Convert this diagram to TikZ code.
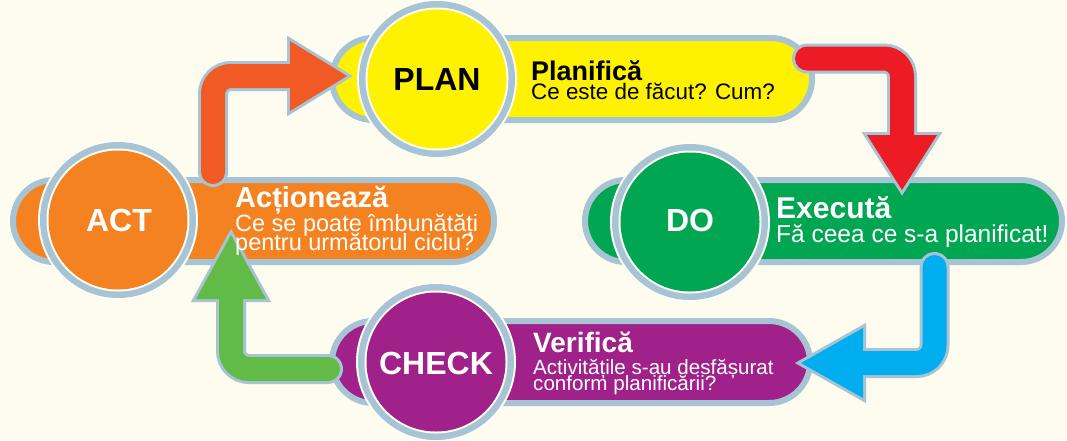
\documentclass[tikz,border=0pt]{standalone}
\usepackage{fontspec}
\setmainfont{Liberation Sans}
\definecolor{bg}{HTML}{FDFCEF}
\definecolor{bord}{HTML}{A6C4D4}
\definecolor{ringwhite}{HTML}{FFFDF5}
\definecolor{cyellow}{HTML}{FFF200}
\definecolor{cred}{HTML}{ED1C24}
\definecolor{cgreen}{HTML}{00A651}
\definecolor{cblue}{HTML}{00AEEF}
\definecolor{cpurple}{HTML}{A0218A}
\definecolor{clime}{HTML}{62BB46}
\definecolor{corange}{HTML}{F58220}
\definecolor{cbrick}{HTML}{F15A24}
\newcommand\stagedisk[2]{%
  \fill[ringwhite] #1 circle[radius=80pt];
  \fill[bord] #1 circle[radius=78pt];
  \fill[ringwhite] #1 circle[radius=71.5pt];
  \fill[#2] #1 circle[radius=69.5pt];}
\tikzset{
  stadium/.style={draw=bord, line width=6pt, rounded corners=41pt, fill=#1},
  shaftbg/.style={draw=bord, line width=30pt, rounded corners=18pt, line cap=round},
  shaftfg/.style={draw=#1, line width=24pt, rounded corners=18pt, line cap=round},
  headbg/.style={draw=bord, line width=6pt, line join=miter},
  headfg/.style={fill=#1},
  stagelbl/.style={inner sep=0pt, font=\bfseries\fontsize{32}{32}\selectfont},
  ttl/.style={anchor=base west, inner sep=0pt, font=\bfseries\fontsize{#1}{#1}\selectfont},
  sub/.style={anchor=base west, inner sep=0pt, font=\fontsize{#1}{#1}\selectfont},
}
\begin{document}
\begin{tikzpicture}[x=1pt,y=-1pt]
\useasboundingbox[fill=bg] (0,0) rectangle (1067,440);

% stadium bands
\draw[stadium=cyellow] (332,38) rectangle (812,120);
\draw[stadium=cgreen] (585,180) rectangle (1062,262);
\draw[stadium=corange] (13,180) rectangle (494,262);
\draw[stadium=cpurple] (332,321) rectangle (810,403);

% big discs
\stagedisk{(437,79)}{cyellow}
\stagedisk{(690,222)}{cgreen}
\stagedisk{(118,220)}{corange}
\stagedisk{(436,362)}{cpurple}

% arrow ACT -> PLAN (orange)
\coordinate (oS) at (213,172); \coordinate (oC) at (213,76); \coordinate (oE) at (292,76);
\coordinate (oA) at (290,41); \coordinate (oT) at (347,76); \coordinate (oB) at (290,111);
\draw[shaftbg] (oS) -- (oC) -- (oE);
\draw[headbg] (oA) -- (oT) -- (oB) -- cycle;
\fill[headfg=cbrick] (oA) -- (oT) -- (oB) -- cycle;
\draw[shaftfg=cbrick] (oS) -- (oC) -- (oE);

% arrow PLAN -> DO (red)
\coordinate (rS) at (807,58.5); \coordinate (rC) at (902,58.5); \coordinate (rE) at (902,137);
\coordinate (rA) at (867,135); \coordinate (rT) at (902,190); \coordinate (rB) at (937,135);
\draw[shaftbg] (rS) -- (rC) -- (rE);
\draw[headbg] (rA) -- (rT) -- (rB) -- cycle;
\fill[headfg=cred] (rA) -- (rT) -- (rB) -- cycle;
\draw[shaftfg=cred] (rS) -- (rC) -- (rE);

% arrow DO -> CHECK (blue)
\coordinate (bS) at (934.5,267); \coordinate (bC) at (934.5,363); \coordinate (bE) at (861,363);
\coordinate (bA) at (863,328); \coordinate (bT) at (801,363); \coordinate (bB) at (863,398);
\draw[shaftbg] (bS) -- (bC) -- (bE);
\draw[headbg] (bA) -- (bT) -- (bB) -- cycle;
\fill[headfg=cblue] (bA) -- (bT) -- (bB) -- cycle;
\draw[shaftfg=cblue] (bS) -- (bC) -- (bE);

% arrow CHECK -> ACT (green)
\coordinate (gS) at (328,369); \coordinate (gC) at (231,369); \coordinate (gE) at (231,297);
\coordinate (gA) at (196,299); \coordinate (gT) at (231,235); \coordinate (gB) at (266,299);
\draw[shaftbg] (gS) -- (gC) -- (gE);
\draw[headbg] (gA) -- (gT) -- (gB) -- cycle;
\fill[headfg=clime] (gA) -- (gT) -- (gB) -- cycle;
\draw[shaftfg=clime] (gS) -- (gC) -- (gE);

% stage labels
\node[stagelbl, text=black] (plan) at (437,79.5) {PLAN};
\node[stagelbl, text=white] (do) at (690,220.5) {DO};
\node[stagelbl, text=white] (act) at (119,220.5) {ACT};
\node[stagelbl, text=white] (check) at (436,363) {CHECK};

% descriptions
\node[ttl=27, text=black] (planT) at (531,80) {Planifică};
\node[sub=22.4, text=black] (planS) at (531,99) {Ce este de făcut? Cum?};

\node[ttl=30, text=white] (doT) at (776,218) {Execută};
\node[sub=24.5, text=white] (doS) at (776,242) {Fă ceea ce s-a planificat!};

\node[ttl=29, text=white] (actT) at (235,207) {Acționează};
\node[sub=23.5, text=white] (actS1) at (235,231) {Ce se poate îmbunătăți};
\node[sub=23.5, text=white] (actS2) at (235,250) {pentru următorul ciclu?};

\node[ttl=28, text=white] (checkT) at (533,352) {Verifică};
\node[sub=20.6, text=white] (checkS1) at (533,374) {Activitățile s-au desfășurat};
\node[sub=20.6, text=white] (checkS2) at (533,390) {conform planificării?};
\end{tikzpicture}
\end{document}
